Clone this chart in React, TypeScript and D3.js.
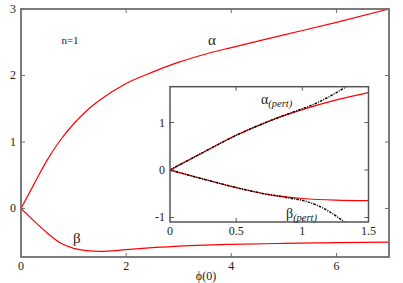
import * as React from 'react';
import * as d3 from 'd3';

// main panel: alpha and beta vs phi(0)
const phi = [0, 0.25, 0.5, 0.75, 1, 1.25, 1.5, 2, 2.5, 3, 3.5, 4, 5, 6, 7];
const alpha = [0, 0.37, 0.73, 1.03, 1.27, 1.47, 1.63, 1.88, 2.05, 2.2, 2.32, 2.42, 2.61, 2.8, 3.0];
const beta = [0, -0.19, -0.37, -0.52, -0.6, -0.635, -0.645, -0.62, -0.59, -0.565, -0.55, -0.54, -0.525, -0.515, -0.505];

// inset: perturbative curves
const phiPert = [0, 0.25, 0.5, 0.75, 0.9, 1.0, 1.1, 1.2, 1.3, 1.4];
const alphaPert = [0, 0.37, 0.73, 1.03, 1.19, 1.29, 1.40, 1.54, 1.70, 1.88];
const betaPert = [0, -0.19, -0.37, -0.52, -0.59, -0.64, -0.73, -0.87, -1.06, -1.28];

const mainXTicks = [0, 2, 4, 6];
const mainYTicks = [0, 1, 2, 3];
const insetXTicks = [0, 0.5, 1, 1.5];
const insetYTicks = [-1, 0, 1];

const W = 403;
const H = 283;
const main = {left: 21, right: 389, top: 9, bottom: 257};
const inset = {left: 170, right: 368.5, top: 86.7, bottom: 222};
const FONT = 'Liberation Serif, DejaVu Serif, serif';

type Pt = [number, number];
const zip = (xs: number[], ys: number[]): Pt[] => xs.map((x, i) => [x, ys[i]]);

export default function App() {
    const x = d3.scaleLinear().domain([0, 7]).range([main.left, main.right]);
    const y = d3.scaleLinear().domain([-0.73, 3]).range([main.bottom, main.top]);
    const xi = d3.scaleLinear().domain([0, 1.5]).range([inset.left, inset.right]);
    const yi = d3.scaleLinear().domain([-1.095, 1.754]).range([inset.bottom, inset.top]);

    const mainLine = d3.line<Pt>().x(d => x(d[0])).y(d => y(d[1])).curve(d3.curveMonotoneX);
    const insetLine = d3.line<Pt>().x(d => xi(d[0])).y(d => yi(d[1])).curve(d3.curveMonotoneX);

    const insetAlpha = zip(phi, alpha).filter(d => d[0] <= 1.5);
    const insetBeta = zip(phi, beta).filter(d => d[0] <= 1.5);

    const tick = 4;
    const frameColor = '#6e6e6e';
    const insetFrame = '#555';

    return (
        <svg width={W} height={H} style={{position: 'absolute', left: 0, top: 0, background: '#fff'}}>
            <defs>
                <clipPath id="mainClip">
                    <rect x={main.left} y={main.top} width={main.right - main.left} height={main.bottom - main.top}/>
                </clipPath>
                <clipPath id="insetClip">
                    <rect x={inset.left} y={inset.top} width={inset.right - inset.left} height={inset.bottom - inset.top}/>
                </clipPath>
            </defs>

            {/* main curves */}
            <g clipPath="url(#mainClip)" fill="none" stroke="#ff0000" strokeWidth={1.2}>
                <path d={mainLine(zip(phi, alpha)) || ''}/>
                <path d={mainLine(zip(phi, beta)) || ''}/>
            </g>

            {/* main frame and ticks */}
            <rect x={main.left} y={main.top} width={main.right - main.left} height={main.bottom - main.top}
                  fill="none" stroke={frameColor} strokeWidth={1.8}/>
            <g stroke={frameColor} strokeWidth={1}>
                {mainXTicks.filter(t => t > 0).map(t => (
                    <g key={'mx' + t}>
                        <line x1={x(t)} x2={x(t)} y1={main.bottom} y2={main.bottom - tick}/>
                        <line x1={x(t)} x2={x(t)} y1={main.top} y2={main.top + tick}/>
                    </g>
                ))}
                {mainYTicks.map(t => (
                    <g key={'my' + t}>
                        <line x1={main.left} x2={main.left + tick} y1={y(t)} y2={y(t)}/>
                        <line x1={main.right} x2={main.right - tick} y1={y(t)} y2={y(t)}/>
                    </g>
                ))}
            </g>
            <g fontSize={12} fill="#222" style={{fontFamily: FONT}}>
                {mainXTicks.map(t => (
                    <text key={'mxl' + t} x={x(t)} y={270} textAnchor="middle">{t}</text>
                ))}
                {mainYTicks.map(t => (
                    <text key={'myl' + t} x={16} y={y(t) + 4}  textAnchor="end">{t}</text>
                ))}
                <text x={206} y={280} textAnchor="middle">ϕ(0)</text>
            </g>
            <g fill="#222" style={{fontFamily: FONT}}>
                <text x={70} y={44} fontSize={11} textAnchor="middle">n=1</text>
                <text x={208} y={45} fontSize={15}>α</text>
                <text x={73} y={243} fontSize={15}>β</text>
            </g>

            {/* inset */}
            <rect x={inset.left} y={inset.top} width={inset.right - inset.left} height={inset.bottom - inset.top}
                  fill="#fff"/>
            <g clipPath="url(#insetClip)" fill="none">
                <path d={insetLine(insetAlpha) || ''} stroke="#ff0000" strokeWidth={1.2}/>
                <path d={insetLine(insetBeta) || ''} stroke="#ff0000" strokeWidth={1.2}/>
                <path d={insetLine(zip(phiPert, alphaPert)) || ''} stroke="#000" strokeWidth={1.5}
                      strokeDasharray="2.5,1.2,1,1.2"/>
                <path d={insetLine(zip(phiPert, betaPert)) || ''} stroke="#000" strokeWidth={1.5}
                      strokeDasharray="2.5,1.2,1,1.2"/>
            </g>
            <rect x={inset.left} y={inset.top} width={inset.right - inset.left} height={inset.bottom - inset.top}
                  fill="none" stroke={insetFrame} strokeWidth={1.5}/>
            <g stroke={insetFrame} strokeWidth={1}>
                {insetXTicks.filter(t => t > 0 && t < 1.5).map(t => (
                    <g key={'ix' + t}>
                        <line x1={xi(t)} x2={xi(t)} y1={inset.bottom} y2={inset.bottom - tick}/>
                        <line x1={xi(t)} x2={xi(t)} y1={inset.top} y2={inset.top + tick}/>
                    </g>
                ))}
                {insetYTicks.map(t => (
                    <g key={'iy' + t}>
                        <line x1={inset.left} x2={inset.left + tick} y1={yi(t)} y2={yi(t)}/>
                        <line x1={inset.right} x2={inset.right - tick} y1={yi(t)} y2={yi(t)}/>
                    </g>
                ))}
            </g>
            <g fontSize={12} fill="#222" style={{fontFamily: FONT}}>
                {insetXTicks.map(t => (
                    <text key={'ixl' + t} x={xi(t)} y={235} textAnchor="middle">{t}</text>
                ))}
                {insetYTicks.map(t => (
                    <text key={'iyl' + t} x={165} y={yi(t) + 4} textAnchor="end">{t}</text>
                ))}
            </g>
            <g fill="#222" style={{fontFamily: FONT}}>
                <text x={261} y={104} fontSize={14}>α<tspan fontSize={10.5} fontStyle="italic" dy={3}>(pert)</tspan></text>
                <text x={286} y={218} fontSize={14}>β<tspan fontSize={10.5} fontStyle="italic" dy={3}>(pert)</tspan></text>
            </g>
        </svg>
    );
}
